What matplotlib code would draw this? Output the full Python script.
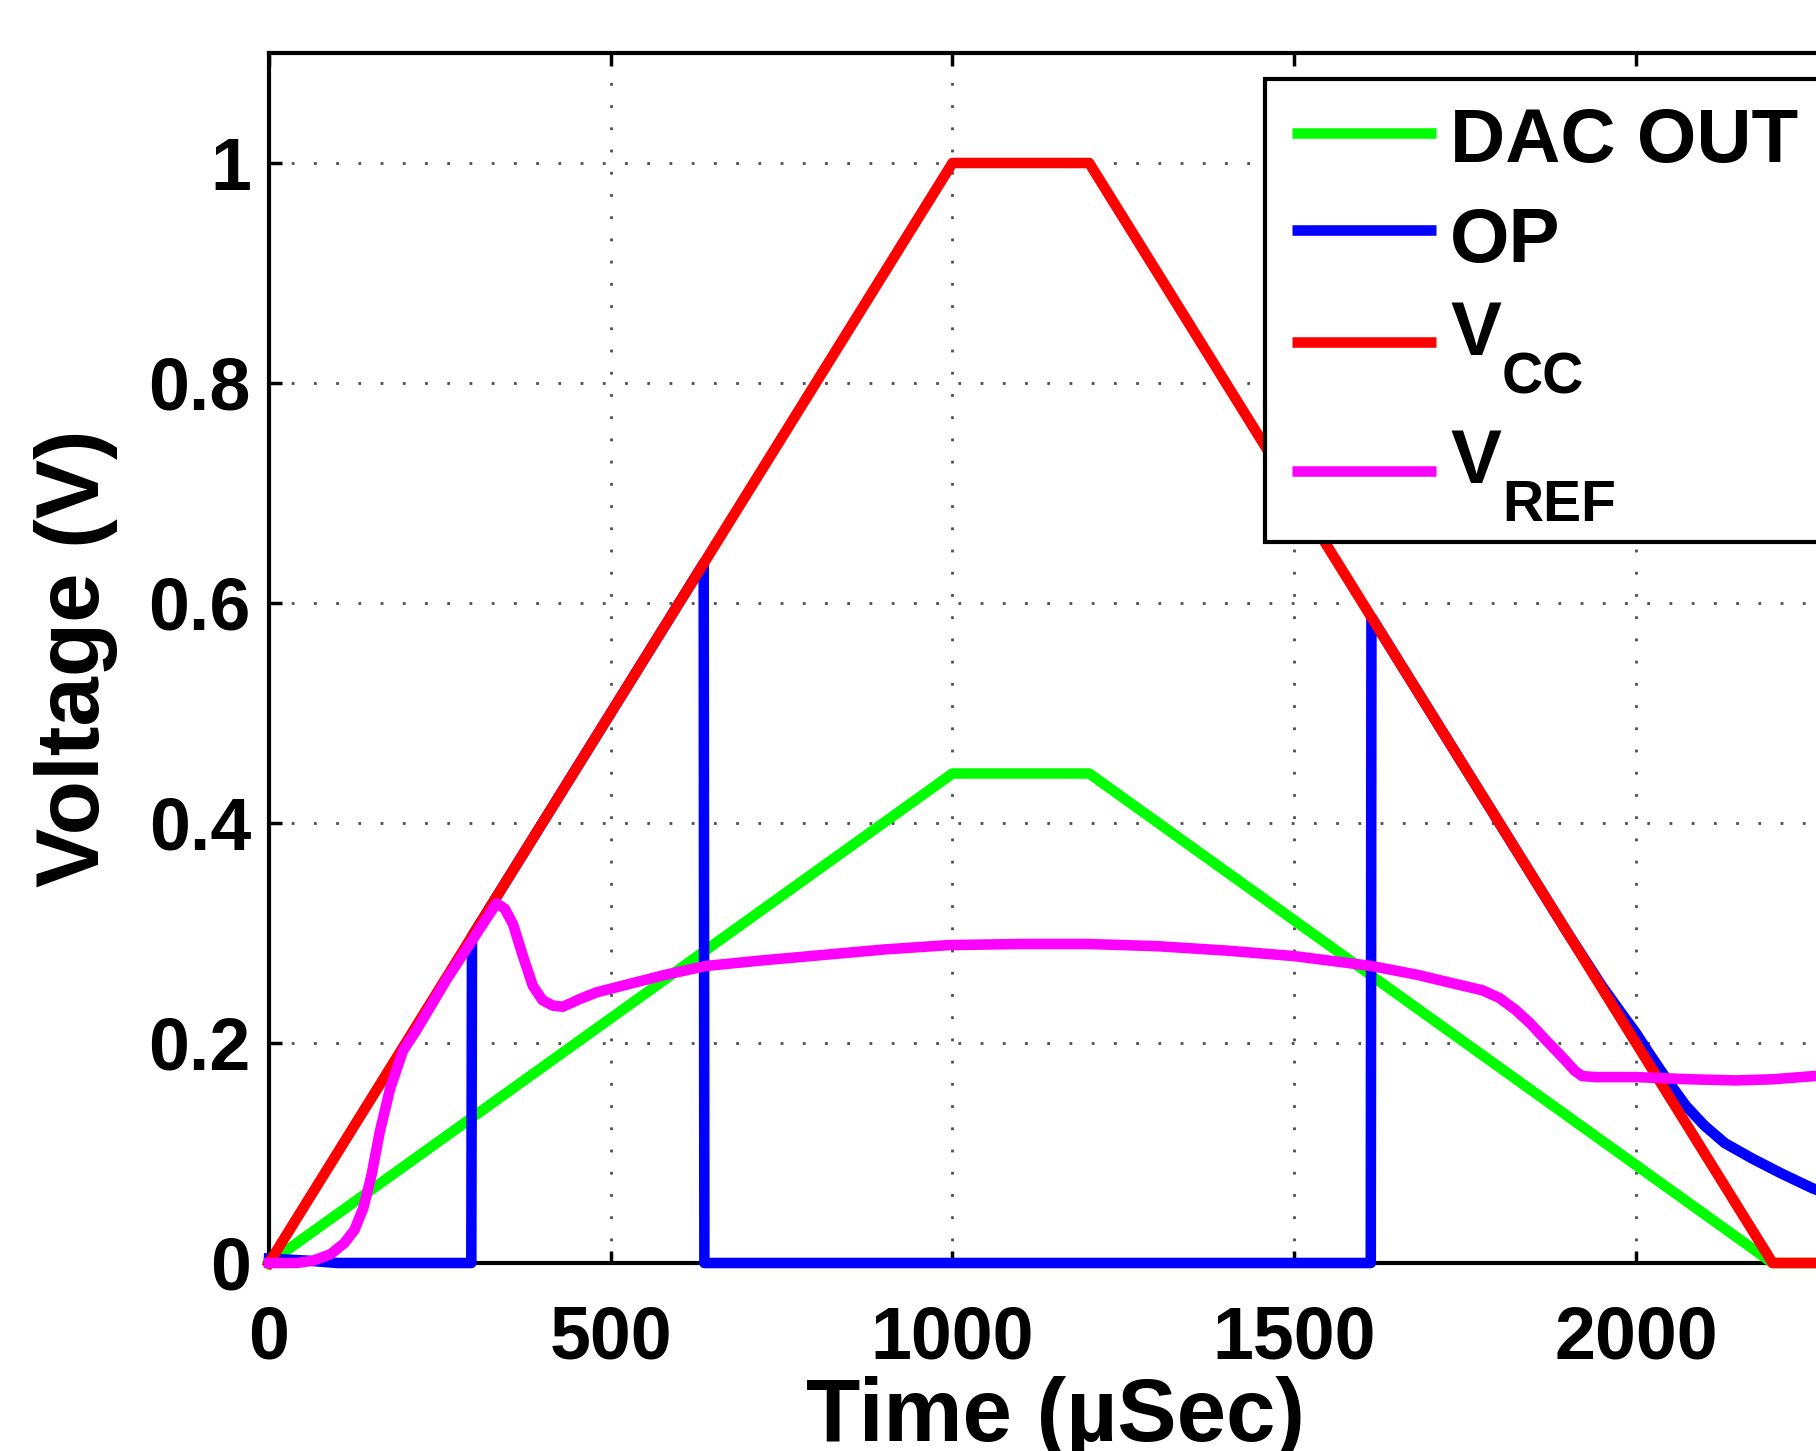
import matplotlib
matplotlib.use("Agg")
import matplotlib.pyplot as plt
from matplotlib.patches import Rectangle
from matplotlib.lines import Line2D

# time axis in microseconds, voltages in V
t_dac = [0, 1000, 1200, 2200, 2300]
v_dac = [0, 0.445, 0.445, 0, 0]

t_op = [0, 60, 100, 296, 297, 636, 637, 1612, 1613, 1900, 1950, 1980, 2000,
        2020, 2045, 2073, 2100, 2130, 2170, 2214, 2258, 2300]
v_op = [0.004, 0.002, 0, 0, 0.297, 0.636, 0, 0, 0.587, 0.30, 0.252, 0.226,
        0.209, 0.19, 0.167, 0.143, 0.125, 0.109, 0.095, 0.081, 0.068, 0.058]

t_vcc = [0, 1000, 1200, 2200, 2300]
v_vcc = [0, 1, 1, 0, 0]

t_ref = [0, 40, 64, 90, 110, 125, 138, 150, 162, 177, 196, 216, 260, 300,
         320, 333, 345, 357, 371, 386, 400, 415, 430, 455, 479, 523, 580, 639,
         720, 792, 900, 995, 1100, 1198, 1300, 1401, 1500, 1613, 1680, 1727,
         1775, 1800, 1824, 1845, 1863, 1880, 1897, 1910, 1921, 1940, 2000,
         2080, 2146, 2200, 2262, 2300]
v_ref = [0, 0, 0.002, 0.008, 0.018, 0.03, 0.05, 0.08, 0.119, 0.158, 0.193,
         0.212, 0.258, 0.296, 0.315, 0.327, 0.322, 0.308, 0.28, 0.252, 0.239,
         0.234, 0.233, 0.24, 0.246, 0.253, 0.262, 0.27, 0.275, 0.279, 0.285,
         0.289, 0.29, 0.29, 0.288, 0.284, 0.279, 0.27, 0.262, 0.255, 0.248,
         0.241, 0.23, 0.218, 0.206, 0.195, 0.184, 0.175, 0.17, 0.169, 0.169,
         0.167, 0.166, 0.167, 0.17, 0.171]

x_ticks = [0, 500, 1000, 1500, 2000]
y_ticks = [0, 0.2, 0.4, 0.6, 0.8, 1]
y_tick_labels = ["0", "0.2", "0.4", "0.6", "0.8", "1"]

legend_names = ["DAC OUT", "OP", "V", "V"]
legend_subs = ["", "", "CC", "REF"]

plt.rcParams["font.family"] = ["Liberation Sans", "DejaVu Sans"]
plt.rcParams["font.weight"] = "bold"

W, H = 1816, 1451
fig = plt.figure(figsize=(W / 100, H / 100), dpi=100)
ax = fig.add_axes([269 / W, 1 - 1263 / H, 1572 / W, 1210 / H])

lw = 7.6
colors = [(0, 1, 0), (0, 0, 1), (1, 0, 0), (1, 0, 1)]
series = [(t_dac, v_dac), (t_op, v_op), (t_vcc, v_vcc), (t_ref, v_ref)]
for (t, v), c in zip(series, colors):
    ax.plot(t, v, color=c, lw=lw, zorder=3, clip_on=False,
            solid_joinstyle="round")

ax.set_xlim(0, 2300)
ax.set_ylim(0, 1.1)
ax.set_xticks(x_ticks)
ax.set_yticks(y_ticks)
ax.set_yticklabels(y_tick_labels)

ax.grid(True, color="0.3", linestyle=(0, (1, 7)), linewidth=2)
ax.tick_params(direction="in", length=9, width=2.5, top=True, right=True,
               labelsize=53)
ax.tick_params(axis="x", pad=30)
ax.tick_params(axis="y", pad=13)
for s in ax.spines.values():
    s.set_linewidth(3)
    s.set_color("black")

ax.set_xlabel("Time (µSec)", fontsize=64, fontweight="bold", labelpad=2)
ax.set_ylabel("Voltage (V)", fontsize=64, fontweight="bold", labelpad=22)

# legend drawn by hand (MATLAB style subscripts), positions in pixels
def fx(px):
    return px / W


def fy(py):
    return 1 - py / H


fig.add_artist(Rectangle((fx(1265), fy(542)), fx(1850) - fx(1265), fy(79) - fy(542),
                         transform=fig.transFigure, facecolor="white",
                         edgecolor="black", lw=3, zorder=5, clip_on=False))
line_y = [133, 230, 342, 471]
base_y = [162, 262, 355, 483]
for name, sub, c, ly, by in zip(legend_names, legend_subs, colors, line_y, base_y):
    fig.add_artist(Line2D([fx(1292), fx(1436)], [fy(ly), fy(ly)], color=c, lw=lw,
                          solid_capstyle="butt", transform=fig.transFigure, zorder=6))
    fig.text(fx(1450), fy(by), name, fontsize=55, fontweight="bold",
             va="baseline", ha="left", zorder=6)
    if sub:
        fig.text(fx(1502), fy(by + 38), sub, fontsize=41, fontweight="bold",
                 va="baseline", ha="left", zorder=6)

fig.savefig("out.png", dpi=100)
